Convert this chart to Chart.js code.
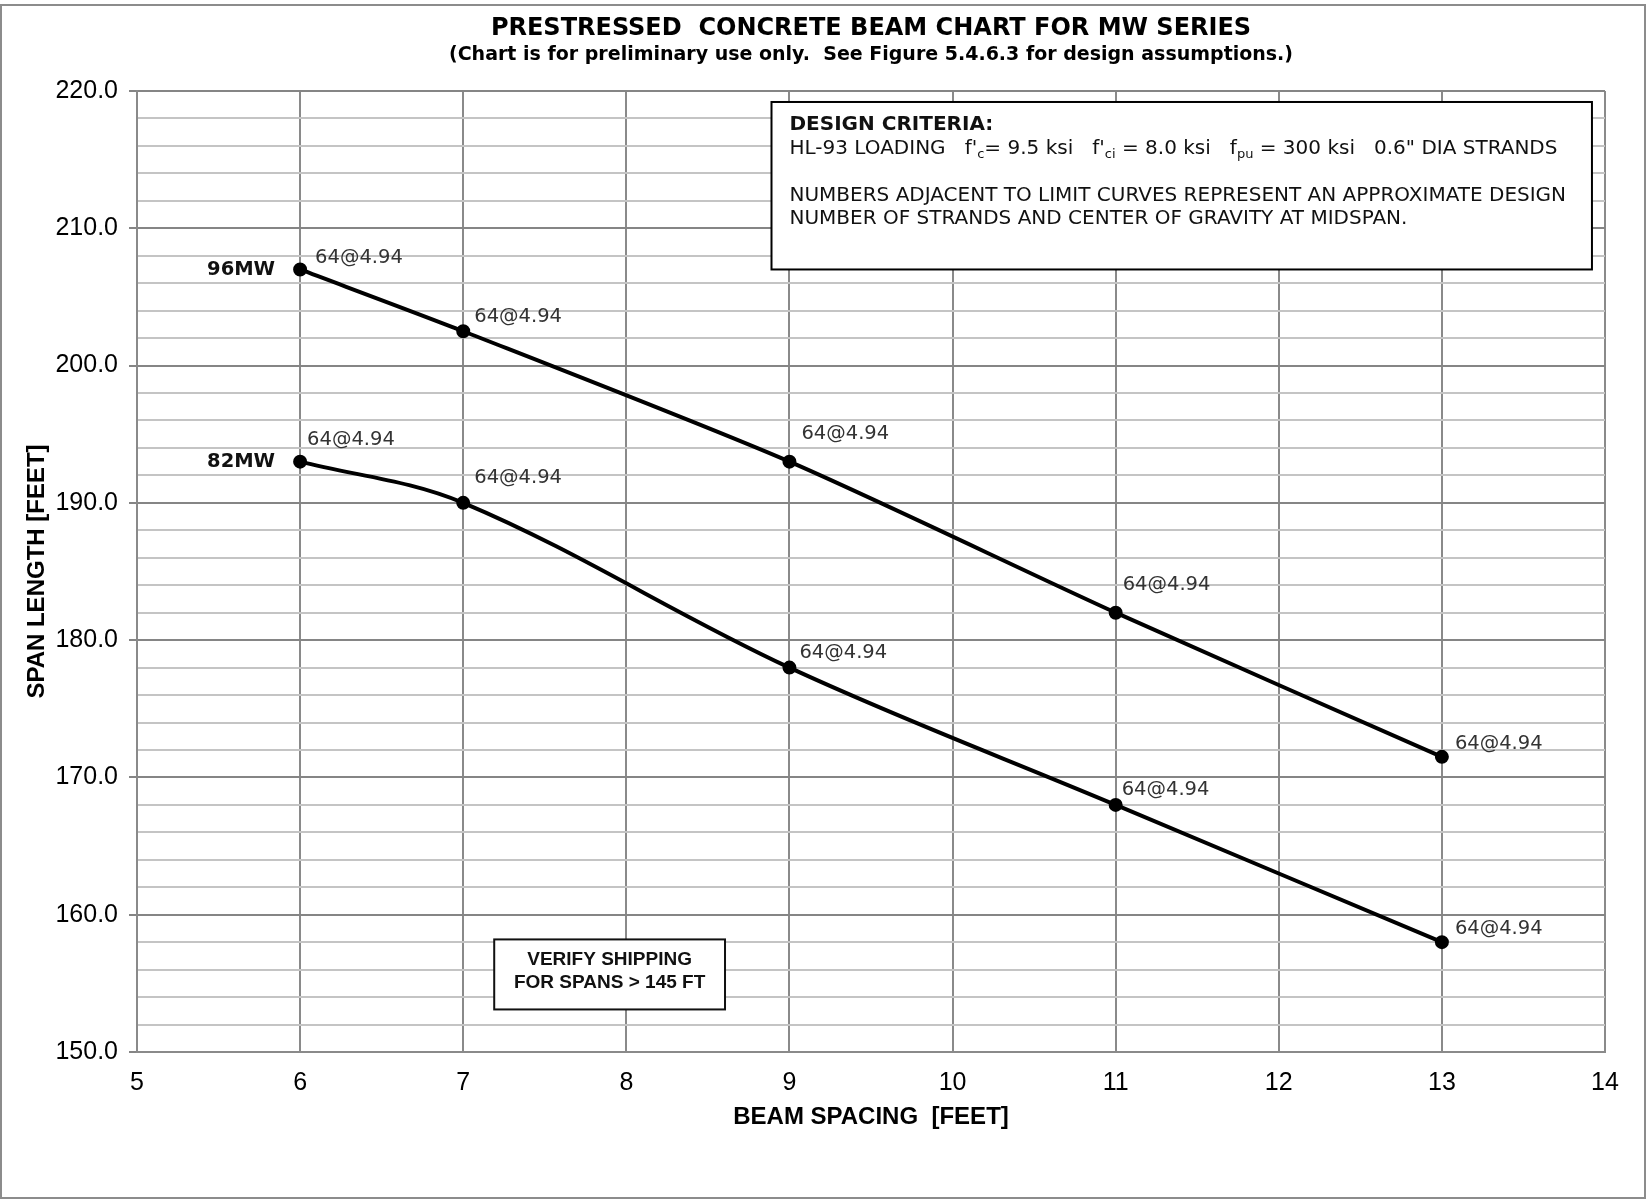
<!DOCTYPE html>
<html>
<head>
<meta charset="utf-8">
<script src="https://cdn.jsdelivr.net/npm/chart.js@4.4.1/dist/chart.umd.min.js"></script>
<style>
    html, body { margin: 0; padding: 0; background: #fff; }
    #wrap { position: relative; width: 1648px; height: 1201px; }
</style>
</head>
<body>
<div id="wrap"><canvas id="myChart" width="1648" height="1201"></canvas></div>
<script>
// Data
const beamSpacing = [6, 7, 9, 11, 13];
const span96MW = [207, 202.5, 193, 182, 171.5];
const span82MW = [193, 190, 178, 168, 158];
const strands96MW = ["64@4.94", "64@4.94", "64@4.94", "64@4.94", "64@4.94"];
const strands82MW = ["64@4.94", "64@4.94", "64@4.94", "64@4.94", "64@4.94"];
const seriesNames = ["96MW", "82MW"];

// label nudges in px (dx, dy) for the strand notes
const nudge96 = [[15, -12], [11, -14], [12, -28], [7, -28], [13, -13]];
const nudge82 = [[7, -22], [11, -25], [10, -15], [6, -15], [13, -13]];

const ctx = document.querySelector("#myChart").getContext("2d");

function toPoints(xs, ys) {
    return xs.map((x, i) => ({ x: x, y: ys[i] }));
}

// --------------------------- Annotations ---------------------------
const annotations = {
    id: "annotations",
    afterDatasetsDraw(chart) {
        const c = chart.ctx;
        const xs = chart.scales.x;
        const ys = chart.scales.y;
        const area = chart.chartArea;
        const cx = (area.left + area.right) / 2;

        c.save();

        // outer frame
        c.strokeStyle = "#8c8c8c";
        c.lineWidth = 2;
        c.strokeRect(1, 5, 1644, 1193);

        // titles
        c.fillStyle = "#000";
        c.textAlign = "center";
        c.textBaseline = "middle";
        c.font = "bold 24px 'DejaVu Sans'";
        c.fillText("PRESTRESSED  CONCRETE BEAM CHART FOR MW SERIES", cx, 29);
        c.font = "bold 19px 'DejaVu Sans'";
        c.fillText("(Chart is for preliminary use only.  See Figure 5.4.6.3 for design assumptions.)", cx, 55);

        // strand notes
        c.font = "19.5px 'DejaVu Sans'";
        c.fillStyle = "#333";
        c.textAlign = "left";
        [[span96MW, strands96MW, nudge96], [span82MW, strands82MW, nudge82]].forEach(([ys2, txt, nd]) => {
            beamSpacing.forEach((x, i) => {
                const px = xs.getPixelForValue(x);
                const py = ys.getPixelForValue(ys2[i]);
                c.fillText(txt[i], px + nd[i][0], py + nd[i][1]);
            });
        });

        // series names
        c.font = "bold 19.5px 'DejaVu Sans'";
        c.fillStyle = "#111";
        c.textAlign = "right";
        c.fillText(seriesNames[0], xs.getPixelForValue(beamSpacing[0]) - 25, ys.getPixelForValue(span96MW[0]));
        c.fillText(seriesNames[1], xs.getPixelForValue(beamSpacing[0]) - 25, ys.getPixelForValue(span82MW[0]));

        // design criteria box
        const bx = xs.getPixelForValue(8.89), bx2 = xs.getPixelForValue(13.92);
        const by = ys.getPixelForValue(219.2), by2 = ys.getPixelForValue(207.0);
        c.fillStyle = "#fff";
        c.fillRect(bx, by, bx2 - bx, by2 - by);
        c.strokeStyle = "#000";
        c.lineWidth = 2;
        c.strokeRect(bx, by, bx2 - bx, by2 - by);

        c.fillStyle = "#111";
        c.textAlign = "left";
        c.textBaseline = "alphabetic";
        const tx = bx + 18;
        c.font = "bold 20px 'DejaVu Sans'";
        c.fillText("DESIGN CRITERIA:", tx, by + 28);

        // line with subscripts
        let x = tx;
        const y1 = by + 52;
        const parts = [
            ["HL-93 LOADING   f'", 0], ["c", 1], ["= 9.5 ksi   f'", 0], ["ci", 1],
            [" = 8.0 ksi   f", 0], ["pu", 1], [" = 300 ksi   0.6\" DIA STRANDS", 0],
        ];
        parts.forEach(([t, sub]) => {
            c.font = sub ? "13px 'DejaVu Sans'" : "20px 'DejaVu Sans'";
            c.fillText(t, x, sub ? y1 + 4 : y1);
            x += c.measureText(t).width;
        });
        c.font = "20px 'DejaVu Sans'";
        c.fillText("NUMBERS ADJACENT TO LIMIT CURVES REPRESENT AN APPROXIMATE DESIGN", tx, by + 99);
        c.fillText("NUMBER OF STRANDS AND CENTER OF GRAVITY AT MIDSPAN.", tx, by + 122);

        // shipping note box
        const vx = xs.getPixelForValue(7.19), vx2 = xs.getPixelForValue(8.605);
        const vy = ys.getPixelForValue(158.2), vy2 = ys.getPixelForValue(153.1);
        c.fillStyle = "#fff";
        c.fillRect(vx, vy, vx2 - vx, vy2 - vy);
        c.strokeStyle = "#111";
        c.strokeRect(vx, vy, vx2 - vx, vy2 - vy);
        c.fillStyle = "#111";
        c.textAlign = "center";
        c.textBaseline = "middle";
        c.font = "bold 19px 'Liberation Sans'";
        c.fillText("VERIFY SHIPPING", (vx + vx2) / 2, vy + 20);
        c.fillText("FOR SPANS > 145 FT", (vx + vx2) / 2, vy + 43);

        c.restore();
    },
};

// Chart object
const beamChart = new Chart(ctx, {
    type: "line",
    data: {
        datasets: [{
            label: seriesNames[0],
            data: toPoints(beamSpacing, span96MW),
            borderColor: "#000",
            backgroundColor: "#000",
            borderWidth: 4,
            pointRadius: 5,
            tension: 0.25,
        }, {
            label: seriesNames[1],
            data: toPoints(beamSpacing, span82MW),
            borderColor: "#000",
            backgroundColor: "#000",
            borderWidth: 4,
            pointRadius: 5,
            tension: 0.35,
        }],
    },
    options: {
        animation: false,
        responsive: false,
        layout: {
            padding: { left: 0, top: 91, right: 43, bottom: 59 },
        },
        scales: {
            x: {
                type: "linear",
                min: 5,
                max: 14,
                afterFit(scale) { scale.height = 90; },
                ticks: {
                    stepSize: 1,
                    color: "#000",
                    padding: 8,
                    font: { family: "'Liberation Sans'", size: 25 },
                },
                grid: {
                    color: "#8a8a8a",
                    lineWidth: 2,
                    tickLength: 8,
                    tickColor: "rgba(0,0,0,0)",
                },
                border: { color: "#8a8a8a", width: 2 },
                title: {
                    display: true,
                    text: "BEAM SPACING  [FEET]",
                    color: "#000",
                    font: { family: "'Liberation Sans'", size: 24, weight: "bold" },
                    padding: { top: 0, bottom: 10 },
                },
            },
            y: {
                min: 150,
                max: 220,
                afterFit(scale) { scale.width = 137; },
                ticks: {
                    stepSize: 2,
                    autoSkip: false,
                    color: "#000",
                    padding: 11,
                    font: { family: "'Liberation Sans'", size: 25 },
                    callback: (v) => (v % 10 === 0 ? v.toFixed(1) : ""),
                },
                grid: {
                    color: (c) => (c.tick && c.tick.value % 10 === 0 ? "#858585" : "#c4c4c4"),
                    lineWidth: 2,
                    tickLength: 8,
                    tickColor: (c) => (c.tick && c.tick.value % 10 === 0 ? "#858585" : "rgba(0,0,0,0)"),
                },
                border: { color: "#8a8a8a", width: 2 },
                title: {
                    display: true,
                    text: "SPAN LENGTH [FEET]",
                    color: "#000",
                    font: { family: "'Liberation Sans'", size: 24, weight: "bold" },
                    padding: { top: 23, bottom: 0 },
                },
            },
        },
        plugins: {
            legend: { display: false },
            tooltip: { enabled: false },
        },
    },
    plugins: [annotations],
});
</script>
</body>
</html>
